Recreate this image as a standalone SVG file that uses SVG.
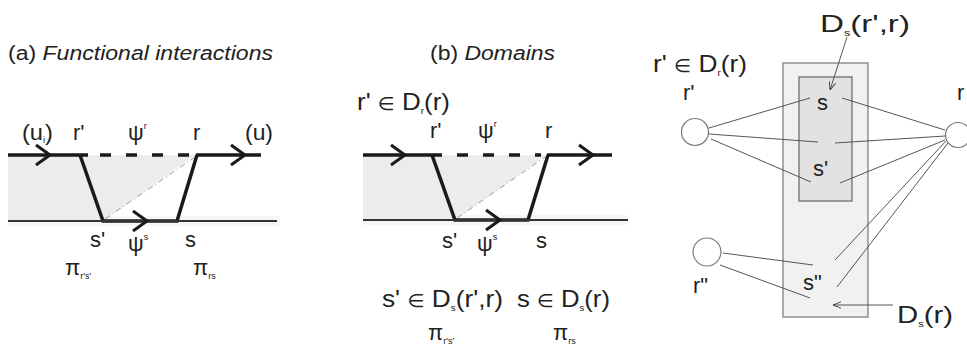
<svg xmlns="http://www.w3.org/2000/svg" width="967" height="349" viewBox="0 0 967 349">
<style>
text{font-family:"Liberation Sans","DejaVu Sans",sans-serif;fill:#222}
.t{font-size:20px}
.l{font-size:22px}
.m{font-size:24px}
.el{font-size:18px}
.sub{font-size:9px}
.thick{stroke:#1a1a1a;stroke-width:3.5;fill:none}
.thin{stroke:#333;stroke-width:2;fill:none}
.dash{stroke:#1a1a1a;stroke-width:3.5;fill:none;stroke-dasharray:11 15}
.dd{stroke:#9a9a9a;stroke-width:1;fill:none;stroke-dasharray:6 3 1 3}
.chev{stroke:#1a1a1a;stroke-width:3;fill:none}
.gl{stroke:#555;stroke-width:1;fill:none}
.circ{fill:#fff;stroke:#777;stroke-width:1.2}
</style>
<defs>
<marker id="ah" viewBox="0 0 10 10" refX="10" refY="5" markerWidth="8" markerHeight="8" orient="auto" markerUnits="userSpaceOnUse">
<path d="M0,1 L10,5 L0,9" fill="none" stroke="#444" stroke-width="1.2"/>
</marker>
</defs>

<!-- Panel (a) -->
<g id="panel-a">
<text class="t" x="8" y="60" textLength="265" lengthAdjust="spacingAndGlyphs">(a) <tspan font-style="italic">Functional interactions</tspan></text>
<rect x="8" y="216" width="272" height="10" fill="#f6f6f6"/>
<polygon points="8,155 195,155 103,221 8,221" fill="#ececec"/>
<line class="dd" x1="105" y1="219" x2="195" y2="157"/>
<line class="thick" x1="8" y1="155" x2="88" y2="155"/>
<line class="dash" x1="100" y1="155" x2="192" y2="155"/>
<line class="thick" x1="196" y1="155" x2="261" y2="155"/>
<polyline class="thick" points="80,155 103,221 177,221 197,155"/>
<line class="thin" x1="8" y1="221" x2="277" y2="221"/>
<polyline class="chev" points="36,145 50,155 36,165"/>
<polyline class="chev" points="231,145 245,155 231,165"/>
<polyline class="chev" points="133,211 147,221 133,231"/>
<text class="l" x="22" y="140" textLength="31" lengthAdjust="spacingAndGlyphs">(u<tspan class="sub" dy="3">i</tspan><tspan dy="-3">)</tspan></text>
<text class="l" x="73" y="140">r'</text>
<text class="l" x="128" y="140">ψ<tspan class="sub" dy="-11">r</tspan></text>
<text class="l" x="193" y="140">r</text>
<text class="l" x="245" y="140" textLength="28" lengthAdjust="spacingAndGlyphs">(u)</text>
<text class="l" x="90" y="247">s'</text>
<text class="l" x="128" y="251">ψ<tspan class="sub" dy="-11">s</tspan></text>
<text class="l" x="185" y="247">s</text>
<text class="l" x="65" y="275">π<tspan class="sub" dy="4">r's'</tspan></text>
<text class="l" x="193" y="275">π<tspan class="sub" dy="4">rs</tspan></text>
</g>

<!-- Panel (b) -->
<g id="panel-b">
<text class="t" x="430" y="60" textLength="125" lengthAdjust="spacingAndGlyphs">(b) <tspan font-style="italic">Domains</tspan></text>
<text class="m" x="357" y="110" textLength="93" lengthAdjust="spacingAndGlyphs">r' <tspan class="el">∈</tspan> D<tspan class="sub" dy="4">r</tspan><tspan dy="-4">(r)</tspan></text>
<rect x="363" y="215" width="265" height="10" fill="#f6f6f6"/>
<polygon points="363,155 546,155 455,220 363,220" fill="#ececec"/>
<line class="dd" x1="457" y1="218" x2="545" y2="157"/>
<line class="thick" x1="363" y1="155" x2="442" y2="155"/>
<line class="dash" x1="457" y1="155" x2="541" y2="155"/>
<line class="thick" x1="547" y1="155" x2="612" y2="155"/>
<polyline class="thick" points="432,155 455,220 528,220 548,155"/>
<line class="thin" x1="363" y1="220" x2="628" y2="220"/>
<polyline class="chev" points="391,145 405,155 391,165"/>
<polyline class="chev" points="579,145 593,155 579,165"/>
<polyline class="chev" points="486,210 500,220 486,230"/>
<text class="l" x="430" y="138">r'</text>
<text class="l" x="478" y="138">ψ<tspan class="sub" dy="-11">r</tspan></text>
<text class="l" x="545" y="138">r</text>
<text class="l" x="442" y="248">s'</text>
<text class="l" x="477" y="251">ψ<tspan class="sub" dy="-11">s</tspan></text>
<text class="l" x="536" y="248">s</text>
<text class="m" x="382" y="307" textLength="121" lengthAdjust="spacingAndGlyphs">s' <tspan class="el">∈</tspan> D<tspan class="sub" dy="4">s</tspan><tspan dy="-4">(r',r)</tspan></text>
<text class="m" x="517" y="307" textLength="93" lengthAdjust="spacingAndGlyphs">s <tspan class="el">∈</tspan> D<tspan class="sub" dy="4">s</tspan><tspan dy="-4">(r)</tspan></text>
<text class="l" x="428" y="340">π<tspan class="sub" dy="4">r's'</tspan></text>
<text class="l" x="553" y="340">π<tspan class="sub" dy="4">rs</tspan></text>
</g>

<!-- Panel (c) -->
<g id="domain-outer">
<rect x="783" y="63" width="85" height="254" fill="#f1f1f1" stroke="#777" stroke-width="1.2"/>
</g>
<g id="domain-inner">
<rect x="799" y="77" width="53" height="124" fill="#e2e2e2" stroke="#666" stroke-width="1.2"/>
</g>
<g id="connectors">
<line class="gl" x1="709" y1="128" x2="810" y2="98"/>
<line class="gl" x1="709" y1="134" x2="818" y2="142"/>
<line class="gl" x1="711" y1="139" x2="811" y2="182"/>
<line class="gl" x1="842" y1="98" x2="945" y2="130"/>
<line class="gl" x1="835" y1="143" x2="945" y2="136"/>
<line class="gl" x1="840" y1="183" x2="945" y2="140"/>
<line class="gl" x1="835" y1="260" x2="946" y2="141"/>
<line class="gl" x1="837" y1="287" x2="948" y2="143"/>
<line class="gl" x1="723" y1="253" x2="813" y2="265"/>
<line class="gl" x1="720" y1="265" x2="810" y2="298"/>
<line class="gl" x1="847" y1="37" x2="830" y2="90" marker-end="url(#ah)"/>
<line class="gl" x1="893" y1="305" x2="833" y2="305" marker-end="url(#ah)"/>
</g>
<g id="node-rprime">
<circle class="circ" cx="695" cy="132" r="13.5"/>
<text class="l" x="683" y="100">r'</text>
</g>
<g id="node-r">
<circle class="circ" cx="958" cy="135" r="12.5"/>
<text class="l" x="957" y="100">r</text>
</g>
<g id="node-rdprime">
<circle class="circ" cx="707" cy="252" r="14"/>
<text class="l" x="693" y="293">r"</text>
</g>
<g id="labels-c">
<text class="m" x="653" y="72" textLength="94" lengthAdjust="spacingAndGlyphs">r' <tspan class="el">∈</tspan> D<tspan class="sub" dy="4">r</tspan><tspan dy="-4">(r)</tspan></text>
<text class="m" x="820" y="32" textLength="90" lengthAdjust="spacingAndGlyphs">D<tspan class="sub" dy="4">s</tspan><tspan dy="-4">(r',r)</tspan></text>
<text class="l" x="817" y="110">s</text>
<text class="l" x="813" y="176">s'</text>
<text class="l" x="803" y="290">s"</text>
<text class="m" x="897" y="323" textLength="56" lengthAdjust="spacingAndGlyphs">D<tspan class="sub" dy="4">s</tspan><tspan dy="-4">(r)</tspan></text>
</g>
</svg>
